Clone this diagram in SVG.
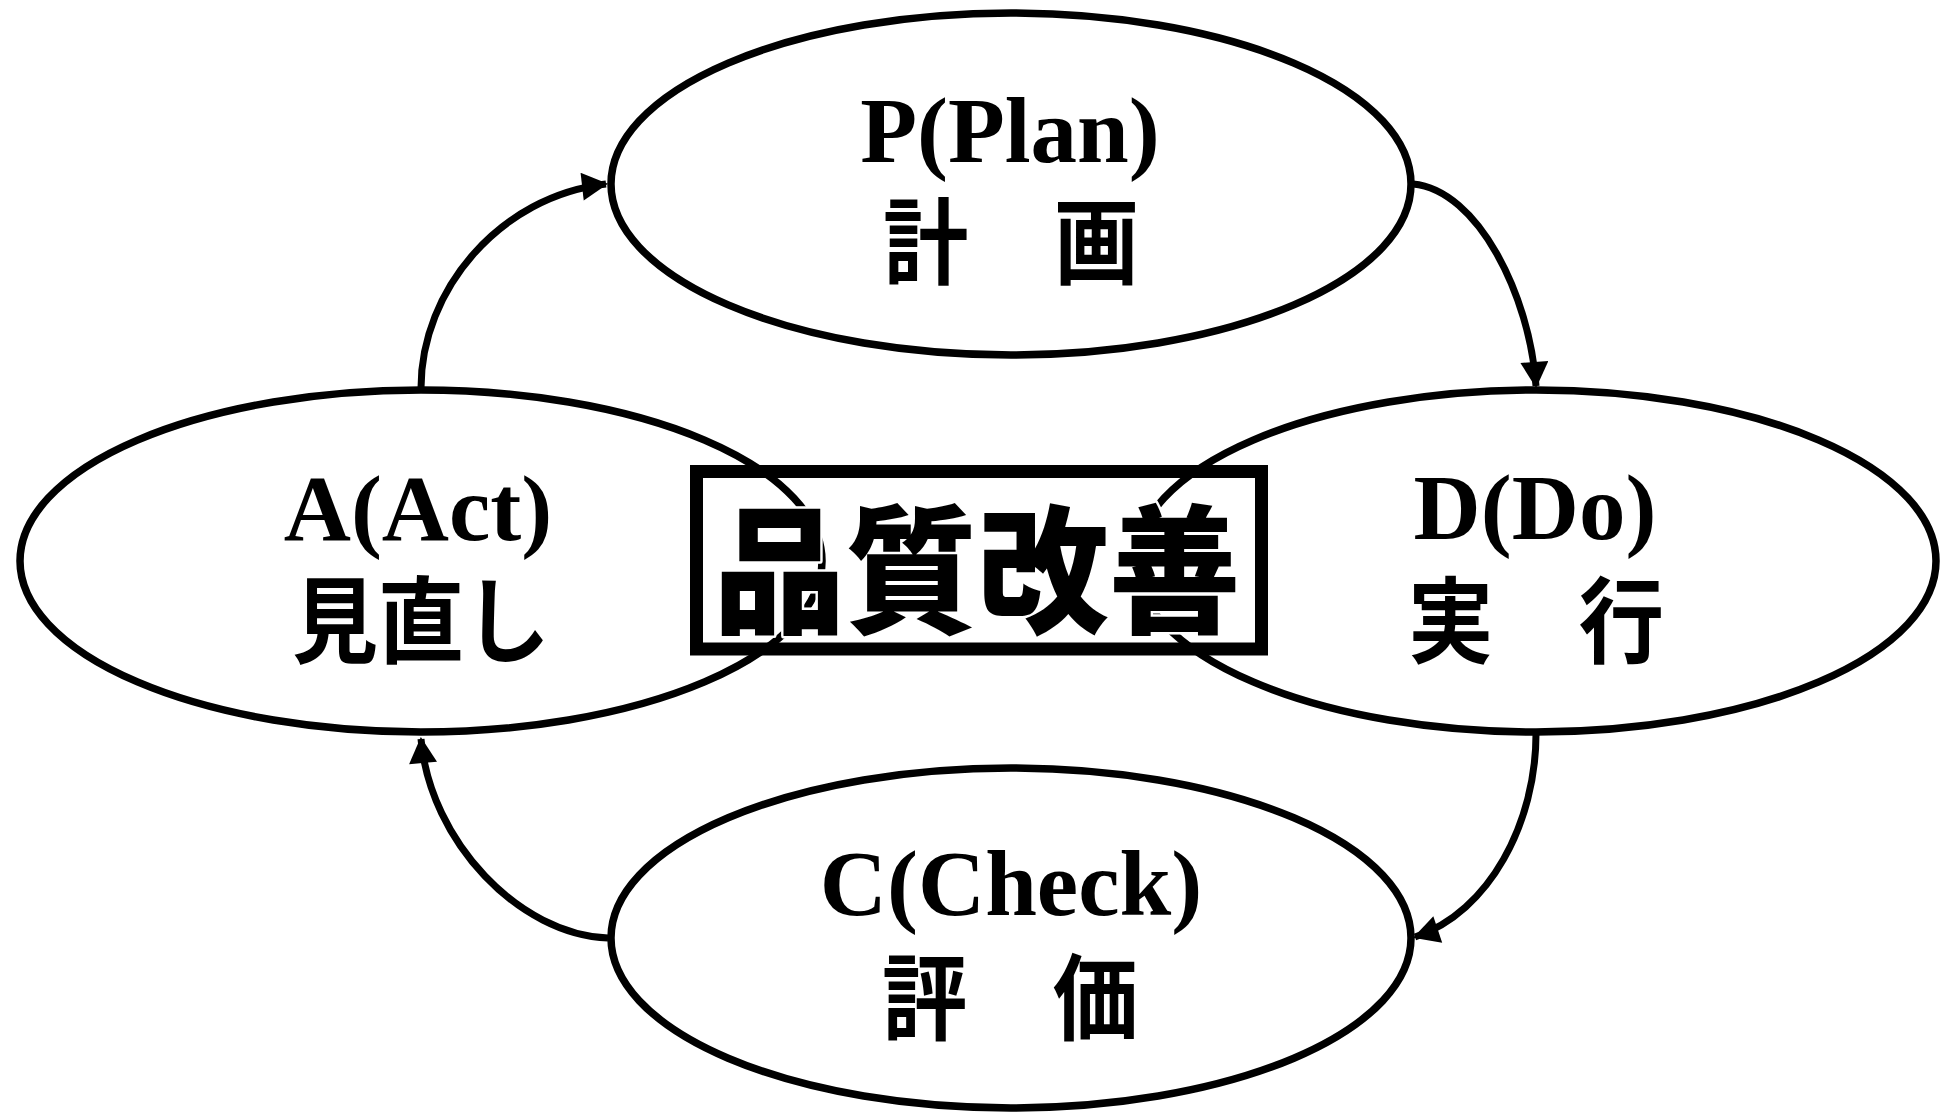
<svg xmlns="http://www.w3.org/2000/svg" width="1950" height="1113" viewBox="0 0 1950 1113">
<style>
.node ellipse{fill:none;stroke:#000;stroke-width:7.5}
.lat{font-family:"Liberation Serif","Times New Roman",serif;font-weight:bold;font-size:93px;text-anchor:middle;fill:#000}
.jp{font-family:"Noto Sans CJK JP","Noto Sans CJK SC",sans-serif;font-weight:bold;font-size:94px;text-anchor:middle;fill:#000}
.conn path{fill:none;stroke:#000;stroke-width:7;marker-end:url(#arr)}
.title{font-family:"Noto Sans CJK JP","Noto Sans CJK SC",sans-serif;font-weight:900;font-size:139px;text-anchor:middle;fill:#000;stroke:#fff;stroke-width:5;paint-order:stroke;stroke-linejoin:round}
</style>
<defs>
<marker id="arr" markerUnits="userSpaceOnUse" markerWidth="28" markerHeight="28" viewBox="0 0 26 28" refX="24" refY="14" orient="auto">
<path d="M0,0 L26,14 L0,28 z" fill="#000"/>
</marker>
</defs>
<rect width="1950" height="1113" fill="#fff"/>
<g id="connectors" class="conn">
<path d="M421,388 C421,290 500,196 606,184"/>
<path d="M1413,184 C1478,190 1530,296 1536,386"/>
<path d="M1536,734 C1536,822 1490,912 1415,937"/>
<path d="M608,938 C520,935 430,842 421,739"/>
</g>
<g id="node-P" class="node">
<ellipse cx="1011" cy="184" rx="400" ry="171"/>
<text class="lat" x="1010" y="162">P(Plan)</text>
<text class="jp" x="1011" y="277" textLength="256" lengthAdjust="spacingAndGlyphs">計　画</text>
</g>
<g id="node-A" class="node">
<ellipse cx="421" cy="561" rx="401" ry="171"/>
<text class="lat" x="418" y="540">A(Act)</text>
<text class="jp" x="421" y="656" textLength="258" lengthAdjust="spacingAndGlyphs">見直し</text>
</g>
<g id="node-D" class="node">
<ellipse cx="1536" cy="561" rx="400" ry="171"/>
<text class="lat" x="1535" y="539">D(Do)</text>
<text class="jp" x="1536" y="656" textLength="256" lengthAdjust="spacingAndGlyphs">実　行</text>
</g>
<g id="node-C" class="node">
<ellipse cx="1011" cy="938" rx="400" ry="170"/>
<text class="lat" x="1011" y="915">C(Check)</text>
<text class="jp" x="1010" y="1033" textLength="256" lengthAdjust="spacingAndGlyphs">評　価</text>
</g>
<g id="node-center">
<rect x="696.5" y="471.5" width="565" height="177.5" fill="none" stroke="#000" stroke-width="13"/>
<text class="title" x="977" y="622" textLength="527" lengthAdjust="spacingAndGlyphs">品質改善</text>
</g>
</svg>
